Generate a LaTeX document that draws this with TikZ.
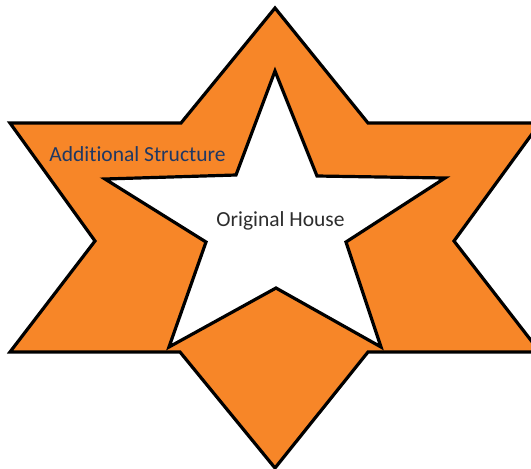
\documentclass[tikz,border=0pt]{standalone}
\usepackage{fontspec}
\setmainfont[Ligatures=NoCommon]{Carlito}
\definecolor{addorange}{RGB}{247,134,40}
\definecolor{labelnavy}{RGB}{31,56,100}
\definecolor{labelgray}{RGB}{45,45,45}
\tikzset{
  outline/.style={draw=black, line width=3.2pt, line join=miter},
  label/.style={font=\fontsize{21.5}{24}\selectfont, inner sep=0pt}
}

\begin{document}
\begin{tikzpicture}[x=1pt, y=-1pt]
\useasboundingbox (0,0) rectangle (531,469);
\begin{scope}
\clip (0,0) rectangle (531,469);
% six-pointed outline of the extension
\draw[outline, fill=addorange] (275,8) -- (368,123) -- (540,123) -- (454,241) -- (540,352) -- (368,352)
  -- (275,468) -- (180,352) -- (10,352) -- (95,241) -- (10,123) -- (181,123) -- cycle;
% five-pointed house inside
\draw[outline, fill=white] (275,71) -- (317,176) -- (445,178) -- (346,242) -- (381,347) -- (276,288)
  -- (169,347) -- (206,242) -- (105,179) -- (236,175) -- cycle;
\end{scope}
\node[label, text=labelnavy] (extension) at (137.5,154) {Additional Structure};
\node[label, text=labelgray] (house) at (280.5,221) {Original House};
\end{tikzpicture}
\end{document}
